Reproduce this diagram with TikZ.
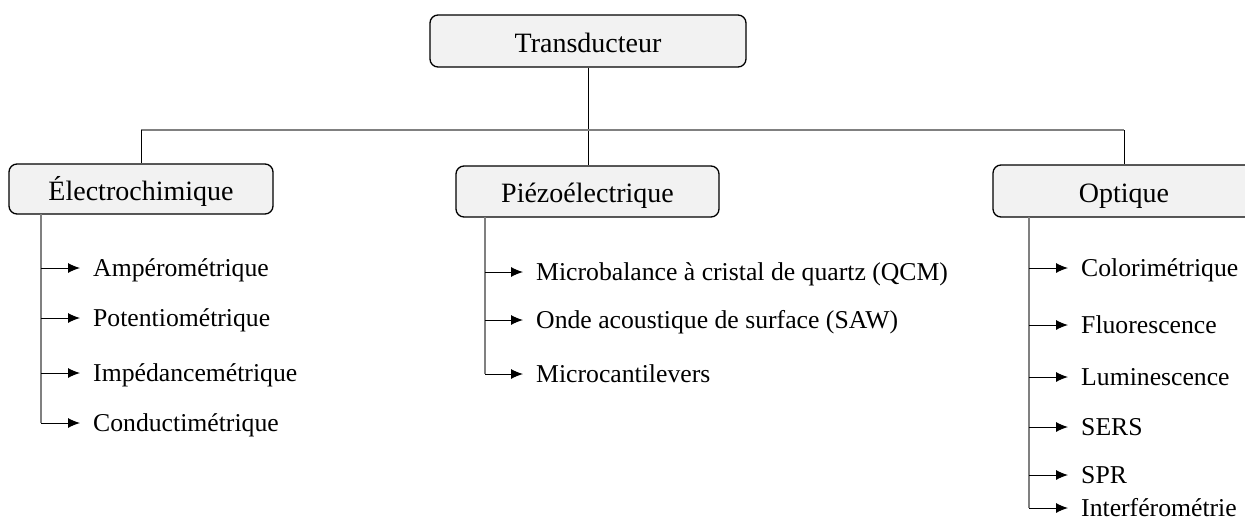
\documentclass[tikz,border=0pt]{standalone}
\usepackage{fontspec}
\setmainfont{Liberation Serif}
\usetikzlibrary{arrows.meta}
\definecolor{boxfill}{HTML}{F2F2F2}
\definecolor{linegray}{HTML}{808080}
\begin{document}
\begin{tikzpicture}[x=1pt,y=-1pt,
  hbox/.style={draw=black, line width=1.3pt, fill=boxfill, rounded corners=8pt,
    font=\fontsize{28}{32}\selectfont, inner sep=0pt, text height=22pt, text depth=0pt},
  item/.style={anchor=west, inner xsep=13pt, inner ysep=0pt, text height=16pt, text depth=0pt,
    font=\fontsize{25.7}{30}\selectfont},
  stem/.style={draw=linegray, line width=1.2pt},
  conn/.style={draw=black, line width=1pt},
  arr/.style={draw=black, line width=1pt, -{Latex[length=12pt,width=10pt]}}]
\useasboundingbox (0,0) rectangle (1245,525);
\clip (0,0) rectangle (1245,525);

\node[hbox, minimum width=316pt, minimum height=52pt] (T) at (588,41) {Transducteur};
\node[hbox, minimum width=264pt, minimum height=50pt] (E) at (141,189) {Électrochimique};
\node[hbox, minimum width=263pt, minimum height=51pt] (P) at (587.5,191.5) {Piézoélectrique};
\node[hbox, minimum width=262pt, minimum height=52pt] (O) at (1124,191) {Optique};

\coordinate (J) at (588,130);
\draw[conn] (T.south) -- (J);
\draw[conn] (J) -- (P.north -| J);
\draw[stem] (E.north |- J) -- (O.north |- J);
\draw[conn] (E.north |- J) -- (E.north);
\draw[conn] (O.north |- J) -- (O.north);

% Electrochimique
\node[item] (e1) at (80,268) {Ampérométrique};
\node[item] (e2) at (80,318) {Potentiométrique};
\node[item] (e3) at (80,373) {Impédancemétrique};
\node[item] (e4) at (80,423) {Conductimétrique};
\coordinate (es) at (41,214);
\draw[stem] (es) -- (es |- e4.west);
\foreach \i in {1,...,4} \draw[arr] (es |- e\i.west) -- (e\i.west);

% Piezo
\node[item] (p1) at (523,272) {Microbalance à cristal de quartz (QCM)};
\node[item] (p2) at (523,320) {Onde acoustique de surface (SAW)};
\node[item] (p3) at (523,374) {Microcantilevers};
\coordinate (ps) at (485,217);
\draw[stem] (ps) -- (ps |- p3.west);
\foreach \i in {1,...,3} \draw[arr] (ps |- p\i.west) -- (p\i.west);

% Optique
\node[item] (o1) at (1068,268) {Colorimétrique};
\node[item] (o2) at (1068,325) {Fluorescence};
\node[item] (o3) at (1068,377) {Luminescence};
\node[item] (o4) at (1068,427) {SERS};
\node[item] (o5) at (1068,475) {SPR};
\node[item] (o6) at (1068,508) {Interférométrie};
\coordinate (os) at (1029,217);
\draw[stem] (os) -- (os |- o6.west);
\foreach \i in {1,...,6} \draw[arr] (os |- o\i.west) -- (o\i.west);
\end{tikzpicture}
\end{document}
